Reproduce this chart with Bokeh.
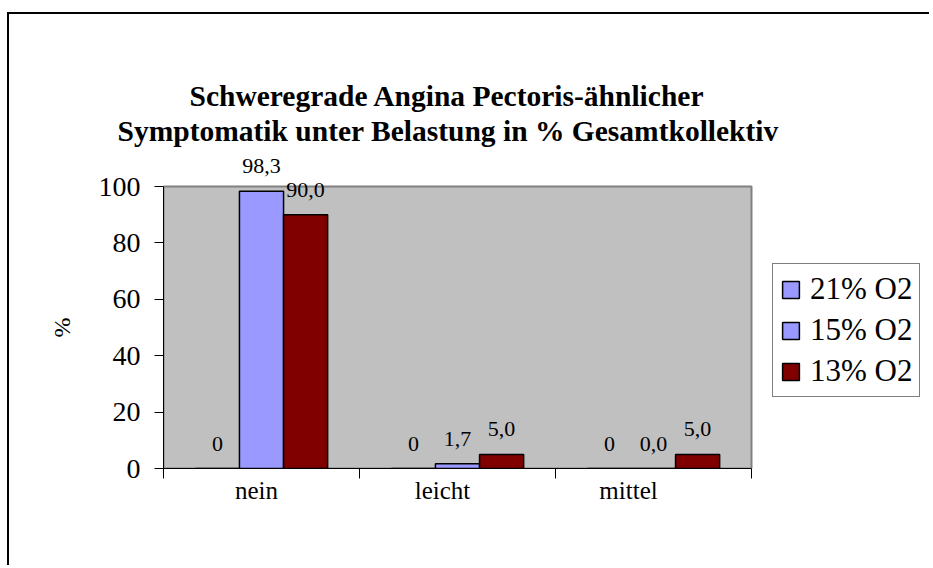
from bokeh.plotting import figure
from bokeh.models import (ColumnDataSource, FixedTicker, Legend, LegendItem, Range1d, Title)
from bokeh.layouts import column
from bokeh.embed import file_html
from bokeh.resources import INLINE
from bokeh.core.properties import value

# ---- data ----
categories = ["nein", "leicht", "mittel"]
series_names = ["21% O2", "15% O2", "13% O2"]
o2_21 = [0, 0, 0]
o2_15 = [98.3, 1.7, 0.0]
o2_13 = [90.0, 5.0, 5.0]
y_ticks = [0, 20, 40, 60, 80, 100]
y_max = 100
y_label = "%"
title_lines = ["Schweregrade Angina Pectoris-ähnlicher",
               "Symptomatik unter Belastung in % Gesamtkollektiv"]

colors = ["#9999FF", "#9999FF", "#800000"]
FONT = "Liberation Serif"

# layout (pixels)
PX_CAT = 196.0      # pixels per category
PX_UNIT = 2.82      # pixels per y unit
FW, FH = 766, 320   # frame size (extended up/right so labels & legend are not clipped)
ncat = len(categories)

p = figure(frame_width=FW, frame_height=FH, output_backend="svg", toolbar_location=None,
           x_range=Range1d(0, FW / PX_CAT), y_range=Range1d(0, FH / PX_UNIT),
           min_border_left=154, min_border_top=134, min_border_right=0, min_border_bottom=97)
p.title.visible = False
p.background_fill_color = "white"
p.border_fill_color = "white"
p.outline_line_color = None
p.xgrid.visible = False
p.ygrid.visible = False

# gray plot area
p.quad(left=0, right=ncat, bottom=0, top=y_max, fill_color="#C0C0C0",
       line_color="#808080", line_width=2)

centers = [i + 0.5 for i in range(ncat)]
bw = 0.225
offsets = [-bw, 0.0, bw]
series = [o2_21, o2_15, o2_13]

renderers = []
for k, (vals, off, col) in enumerate(zip(series, offsets, colors)):
    xs = [c + off for c in centers]
    if k == 0:
        labels = [str(int(v)) for v in vals]
    else:
        labels = [f"{v:.1f}".replace(".", ",") for v in vals]
    src = ColumnDataSource(dict(x=xs, top=vals, lbl=labels))
    r = p.vbar(x="x", top="top", bottom=0, width=bw, source=src,
               fill_color=col, line_color="black", line_width=1.5)
    renderers.append(r)
    p.text(x="x", y="top", text="lbl", source=src, text_font=value(FONT),
           text_font_size="22px", text_align="center", text_baseline="middle",
           y_offset=-25, text_color="black")

# x axis: labels near centers, tick marks at category boundaries
label_pos = [c * 0.949 for c in centers]
xa = p.xaxis[0]
xa.bounds = (0, ncat)
xa.ticker = FixedTicker(ticks=label_pos, minor_ticks=list(range(ncat + 1)))
xa.major_label_overrides = {c: lab for c, lab in zip(label_pos, categories)}
xa.major_tick_out = 0
xa.major_tick_in = 0
xa.minor_tick_out = 10
xa.minor_tick_in = 0
xa.minor_tick_line_color = "black"
xa.axis_line_color = "black"
xa.major_label_text_font = FONT
xa.major_label_text_font_size = "25px"
xa.major_label_text_color = "black"
xa.major_label_standoff = -2

ya = p.yaxis[0]
ya.bounds = (0, y_max)
ya.ticker = FixedTicker(ticks=y_ticks)
ya.major_tick_out = 9
ya.major_tick_in = 0
ya.major_tick_line_color = "black"
ya.minor_tick_line_color = None
ya.axis_line_color = "black"
ya.major_label_text_font = FONT
ya.major_label_text_font_size = "28px"
ya.major_label_text_color = "black"
ya.major_label_standoff = 14

# "%" axis title, centred on the 0..100 part of the axis
p.add_layout(Title(text=y_label, align="left", offset=131, vertical_align="top",
                   standoff=37, text_font=FONT, text_font_size="24px",
                   text_font_style="normal", text_color="black"), "left")

# chart title, two lines
p.add_layout(Title(text=title_lines[1], align="left", offset=-46, vertical_align="middle",
                   standoff=1, text_font=FONT, text_font_size="29.5px",
                   text_font_style="bold", text_color="black"), "above")
p.add_layout(Title(text=title_lines[0], align="left", offset=26, vertical_align="middle",
                   standoff=1, text_font=FONT, text_font_size="29.5px",
                   text_font_style="bold", text_color="black"), "above")

legend = Legend(items=[LegendItem(label=n, renderers=[r]) for n, r in zip(series_names, renderers)],
                location=(609, 71), label_text_font=FONT, label_text_font_size="31px",
                label_text_color="black",
                glyph_width=21, glyph_height=21, label_standoff=9, padding=7,
                spacing=5, label_height=31, margin=0,
                border_line_color="black", border_line_width=1,
                background_fill_color="white", background_fill_alpha=1)
p.add_layout(legend)

root = column(p, styles={"border-top": "2px solid black", "border-left": "2px solid black",
                         "margin-top": "12px", "margin-left": "7px"})

open("out.html", "w").write(file_html(root, INLINE))
